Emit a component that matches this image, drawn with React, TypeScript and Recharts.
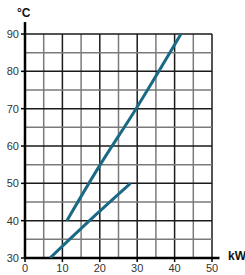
import { LineChart, Line, XAxis, YAxis, ReferenceLine } from 'recharts';

const xTicks = [0, 10, 20, 30, 40, 50];
const yTicks = [30, 40, 50, 60, 70, 80, 90];
const xGrid = [5, 10, 15, 20, 25, 30, 35, 40, 45, 50];
const yGrid = [35, 40, 45, 50, 55, 60, 65, 70, 75, 80, 85, 90];

const upperCurve = [
  { kw: 11.2, temp: 40 },
  { kw: 19.5, temp: 54 },
  { kw: 29.7, temp: 70 },
  { kw: 41.7, temp: 90 },
];
const lowerCurve = [
  { kw: 6.7, temp: 30 },
  { kw: 19.4, temp: 42 },
  { kw: 28.2, temp: 50 },
];

const LINE = '#1a6a86';
const tick = { fontSize: 11, fill: '#333', fontFamily: 'Liberation Sans, Arial, sans-serif' };

export default function App() {
  return (
    <div style={{ position: 'absolute', left: 0, top: 0, width: 245, height: 275, background: '#fff' }}>
      <LineChart width={245} height={275} margin={{ top: 34, right: 33, left: 0, bottom: 0 }}>
        <XAxis type="number" dataKey="kw" domain={[0, 50]} ticks={xTicks} height={17} tickSize={4}
          axisLine={false} tickLine={{ stroke: '#000', strokeWidth: 1.5 }} tick={tick} interval={0} allowDataOverflow />
        <YAxis type="number" dataKey="temp" domain={[30, 90]} ticks={yTicks} width={25} tickSize={4}
          axisLine={false} tickLine={{ stroke: '#000', strokeWidth: 1.5 }} tick={tick} interval={0} allowDataOverflow />
        {xGrid.map((v) => (
          <ReferenceLine key={'x' + v} x={v} stroke={v % 10 === 0 ? '#1a1a1a' : '#7a7a7a'} strokeWidth={1.5} />
        ))}
        {yGrid.map((v) => (
          <ReferenceLine key={'y' + v} y={v} stroke={v % 10 === 0 ? '#1a1a1a' : '#7a7a7a'} strokeWidth={1.5} />
        ))}
        <ReferenceLine segment={[{ x: 0, y: 30 }, { x: 0, y: 93.2 }]} stroke="#000" strokeWidth={2.5} ifOverflow="visible" />
        <ReferenceLine segment={[{ x: 0, y: 30 }, { x: 52, y: 30 }]} stroke="#000" strokeWidth={2.5} ifOverflow="visible" />
        <Line data={upperCurve} dataKey="temp" type="monotone" stroke={LINE} strokeWidth={3} dot={false} isAnimationActive={false} />
        <Line data={lowerCurve} dataKey="temp" type="monotone" stroke={LINE} strokeWidth={3} dot={false} isAnimationActive={false} />
        <text x={17} y={17} fontSize={12} fontWeight="bold" fill="#111" fontFamily="Liberation Sans, Arial, sans-serif">°C</text>
        <text x={228} y={260} fontSize={12} fontWeight="bold" fill="#111" fontFamily="Liberation Sans, Arial, sans-serif">kW</text>
      </LineChart>
    </div>
  );
}
